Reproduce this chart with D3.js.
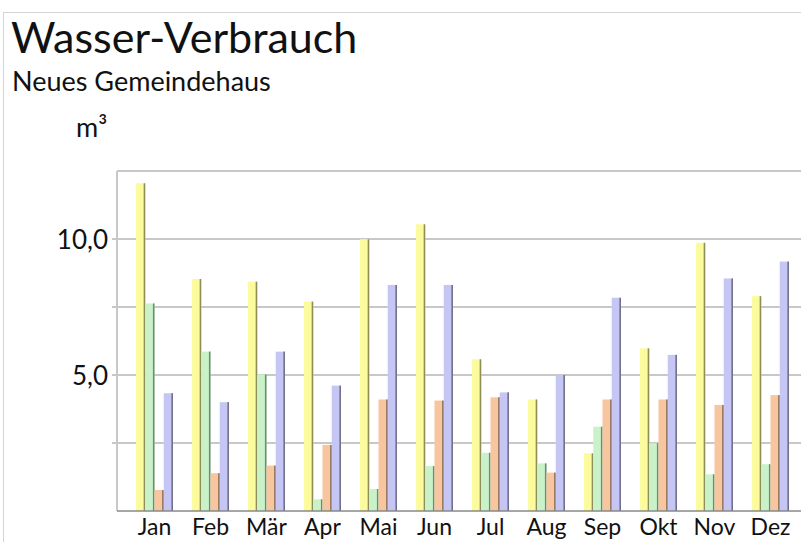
<!DOCTYPE html>
<html><head><meta charset="utf-8">
<script src="https://cdn.jsdelivr.net/npm/d3@7"></script>
<style>body{margin:0;background:#fff}svg{display:block}text{font-family:Lato,"Open Sans",sans-serif;fill:#111}</style>
</head><body><svg id="c" width="801" height="542"></svg>
<script>
const months = ["Jan","Feb","Mär","Apr","Mai","Jun","Jul","Aug","Sep","Okt","Nov","Dez"];
const seriesNames = ["S1","S2","S3","S4"];
const s1 = [12.05, 8.53, 8.43, 7.7, 9.99, 10.54, 5.58, 4.1, 2.12, 5.98, 9.86, 7.9];
const s2 = [7.63, 5.86, 5.02, 0.43, 0.81, 1.65, 2.14, 1.75, 3.1, 2.49, 1.35, 1.72];
const s3 = [0.77, 1.39, 1.67, 2.43, 4.1, 4.06, 4.18, 1.41, 4.1, 4.1, 3.9, 4.26];
const s4 = [4.33, 4.0, 5.86, 4.61, 8.31, 8.31, 4.36, 5.0, 7.84, 5.74, 8.55, 9.17];
const colors = ["#fbfb9e", "#c9f2c9", "#f7c59e", "#c6c6f4"];
const yTicks = [5, 10];
const gridTicks = [2.5, 5, 7.5, 10];

const svg = d3.select("#c");
const pLeft = 117, pTop = 171, pBottom = 511, pRight = 812;
const y = d3.scaleLinear().domain([0, 12.5]).range([pBottom, pTop]);
const x = d3.scaleBand().domain(months).range([126.5, 798.5]).paddingInner(0.34).paddingOuter(0.17);
const xs = d3.scaleBand().domain(seriesNames).range([0, x.bandwidth()]);
const fmt = v => d3.format(".1f")(v).replace(".", ",");

// outer frame
svg.append("rect").attr("x",3.5).attr("y",12.5).attr("width",820).attr("height",560)
  .attr("fill","none").attr("stroke","#d4d4d4");

svg.append("text").attr("x",11).attr("y",53).attr("font-size",43).text("Wasser-Verbrauch");
svg.append("text").attr("x",12).attr("y",91).attr("font-size",27).text("Neues Gemeindehaus");
svg.append("text").attr("x",76).attr("y",137).attr("font-size",27).text("m³");

// plot frame & grid
svg.append("line").attr("x1",pLeft).attr("x2",pRight).attr("y1",pTop).attr("y2",pTop).attr("stroke","#c8c8c8").attr("stroke-width",2);
svg.append("g").selectAll("line").data(gridTicks).join("line")
  .attr("x1",pLeft-5).attr("x2",pRight).attr("y1",d=>y(d)).attr("y2",d=>y(d))
  .attr("stroke","#c8c8c8").attr("stroke-width",2);
svg.append("line").attr("x1",pLeft).attr("x2",pLeft).attr("y1",pTop).attr("y2",pBottom).attr("stroke","#c8c8c8").attr("stroke-width",2);

// y axis labels
svg.append("g").selectAll("text").data(yTicks).join("text")
  .attr("x",108).attr("y",d=>y(d)+10).attr("text-anchor","end").attr("font-size",26).text(fmt);

// bars
const data = [s1,s2,s3,s4];
const g = svg.append("g");
months.forEach((m,i)=>{
  data.forEach((s,j)=>{
    const bx = x(m)+xs(seriesNames[j]);
    const w = xs.bandwidth();
    g.append("rect").attr("x",bx).attr("y",y(s[i])).attr("width",w).attr("height",y(0)-y(s[i])).attr("fill",colors[j]);
    g.append("rect").attr("x",bx+w-1.6).attr("y",y(s[i])).attr("width",1.6).attr("height",y(0)-y(s[i])).attr("fill",d3.color(colors[j]).darker(1.6));
  });
});

// baseline
svg.append("line").attr("x1",pLeft).attr("x2",pRight).attr("y1",pBottom).attr("y2",pBottom).attr("stroke","#888").attr("stroke-width",1.5);

// x labels
svg.append("g").selectAll("text").data(months).join("text")
  .attr("x",d=>x(d)+x.bandwidth()/2).attr("y",535).attr("text-anchor","middle").attr("font-size",23).text(d=>d);
</script></body></html>
